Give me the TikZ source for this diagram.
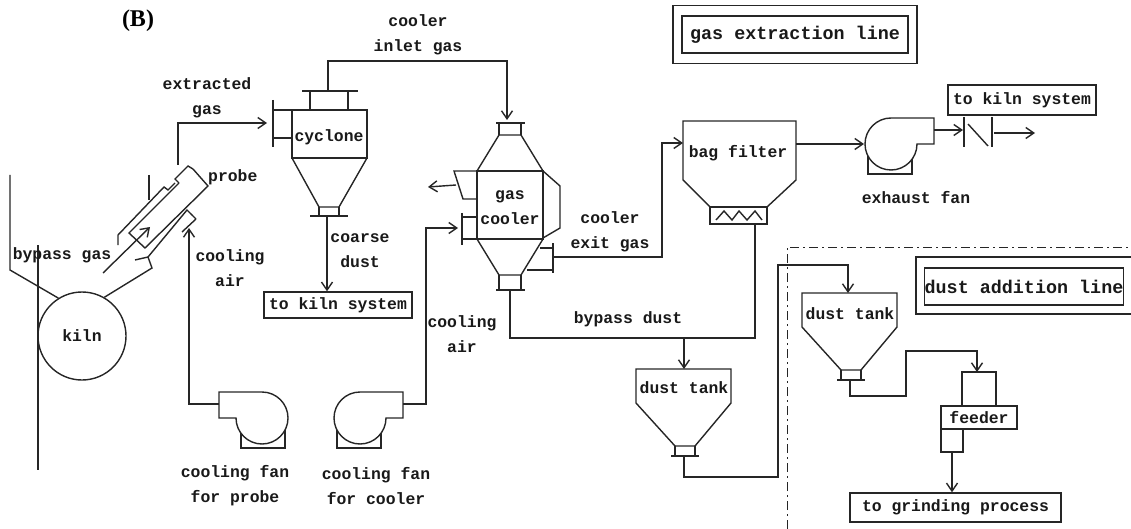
\documentclass[tikz,border=0pt]{standalone}
\usepackage{fontspec}
\setmainfont{Liberation Mono}
\newfontfamily\panelfont{Liberation Serif}
\usetikzlibrary{arrows.meta,positioning}
\tikzset{
	plant/.style={draw=black!85, line width=1.4pt},
	flowarr/.style={plant, -{Straight Barb[length=8pt,width=11pt,line width=1.4pt]}},
	tag/.style={inner sep=0pt, align=center, text=black!90, font=\bfseries\fontsize{16.4}{25}\selectfont},
	tagbox/.style={tag, plant},
	tagbig/.style={tagbox, font=\bfseries\fontsize{18.4}{25}\selectfont},
	blower/.pic={
		\draw[plant] (26,0) arc[start angle=0, end angle=270, radius=26] -- (43,-26) -- (43,0) -- cycle;
		\draw[plant] (-23,12) -- (-23,30) -- (21,30) -- (21,15);
		\coordinate (-out) at (43,-14);
	},
	dusttank/.pic={
		\draw[plant] (-48,34) -- (-48,0) -- (47,0) -- (47,34) -- (11,77) -- (-9,77) -- cycle;
		\draw[plant] (-9,77) -- (-9,87) (11,77) -- (11,87);
		\draw[plant] (-13,87) -- (15,87);
		\coordinate (-out) at (0,87);
	}
}

\begin{document}
\begin{tikzpicture}[x=1pt,y=-1pt]
	\useasboundingbox (0,0) rectangle (1131,529);
	\node[font=\panelfont\bfseries\fontsize{24}{24}\selectfont, inner sep=0pt] (panel) at (138,21) {(B)};

	% kiln and probe
	\node[tag, plant, circle, minimum size=88pt] (kiln) at (82,336) {kiln};
	\draw[plant] (10,175) -- (10,270) -- (kiln.122);
	\draw[plant] (38,245) -- (38,470);
	\draw[plant] (kiln.60) -- (152,268) -- (148,257) -- (135,260);
	\draw[plant] (148,257) -- (187,210) -- (192,215);
	\draw[plant] (196,219) -- (182,232);
	\draw[plant] (191,214) -- (196,219);
	\draw[plant] (193,169) -- (208,186) -- (145,248) -- (129,233) -- (179,183);
	\draw[plant] (179,183) -- (175,179) -- (188,166) -- (193,169);
	\draw[plant] (118,245) -- (118,235) -- (164,187) -- (168,190) -- (175,183);
	\draw[plant] (149,175) -- (149,200);
	\coordinate (probetail) at (103,273);
	\coordinate (probehead) at (150,227);
	\coordinate (probecap) at (207,177);
	\draw[flowarr] (probetail) -- (probehead);
	\node[tag, right=1pt of probecap] (probe) {probe};
	\node[tag] (bypass) at (62,255) {bypass gas};
	\coordinate (probeout) at (178,165);

	% cyclone
	\draw[plant] (292,110) rectangle (367,158);
	\draw[plant] (292,158) -- (319,207) -- (339,207) -- (367,158);
	\draw[plant] (319,207) -- (319,216) (339,207) -- (339,216);
	\draw[plant] (310,216) -- (348,216);
	\draw[plant] (310,91) -- (310,110) (348,91) -- (348,110);
	\draw[plant] (302,91) -- (358,91);
	\draw[plant] (273,100) -- (273,147);
	\draw[plant] (273,110) -- (292,110) (273,138) -- (292,138);
	\coordinate (cycin) at (267,123);
	\coordinate (cyctop) at (328,91);
	\coordinate (cycout) at (327,216);
	\node[tag] (cyclone) at (329,137) {cyclone};
	\node[tagbox, minimum width=148pt, minimum height=26pt] (tokilna) at (338,305) {to kiln system};
	\node[tag] (coarse) at (360,251) {coarse\\dust};
	\node[tag] (extracted) at (207,98) {extracted\\gas};
	\coordinate (extbend) at (178,123);
	\draw[flowarr] (probeout) -- (extbend) -- (cycin);
	\draw[flowarr] (cycout) -- (cycout |- tokilna.north);

	% gas cooler
	\draw[plant] (477,171) rectangle (543,239);
	\draw[plant] (477,171) -- (499,135) -- (521,135) -- (543,171);
	\draw[plant] (499,135) -- (499,123) (521,135) -- (521,123);
	\draw[plant] (496,123) -- (525,123);
	\draw[plant] (477,239) -- (499,275) -- (521,275) -- (543,239);
	\draw[plant] (499,275) -- (499,290) (521,275) -- (521,290);
	\draw[plant] (496,290) -- (525,290);
	\draw[plant] (477,171) -- (454,171) -- (463,199) -- (477,199);
	\draw[plant] (543,171) -- (560,186) -- (560,228) -- (543,238);
	\draw[plant] (462,213) -- (462,245);
	\draw[plant] (462,217) -- (477,217) (462,239) -- (477,239);
	\draw[plant] (553,243) -- (553,273);
	\draw[plant] (540,248) -- (553,248) (527,270) -- (553,270);
	\coordinate (coolertop) at (507,120);
	\coordinate (coolerleft) at (456,185);
	\coordinate (coolerlefttip) at (428,187);
	\coordinate (coolerin) at (458,228);
	\coordinate (coolerout) at (553,257);
	\coordinate (coolerdust) at (510,290);
	\node[tag] (gascooler) at (510,208) {gas\\cooler};
	\node[tag] (exitgas) at (610,232) {cooler\\exit gas};
	\node[tag] (inletgas) at (418,35) {cooler\\inlet gas};
	\coordinate (inletbend) at (328,61);
	\draw[flowarr] (cyctop) -- (inletbend) -| (coolertop);
	\draw[flowarr] (coolerleft) -- (coolerlefttip);

	% bag filter
	\draw[plant] (683,180) -- (683,121) -- (796,121) -- (796,180) -- (767,207) -- (710,207) -- cycle;
	\draw[plant] (710,207) rectangle (767,224);
	\draw[plant] (716,220) -- (724,211) -- (732,220) -- (739,211) -- (747,220) -- (755,211) -- (762,220);
	\node[tag] (bagfilter) at (738,153) {bag filter};
	\coordinate (bagin) at (683,143);
	\coordinate (bagout) at (796,144);
	\coordinate (bagdust) at (755,224);
	\coordinate (exitbend) at (662,257);
	\draw[flowarr] (coolerout) -- (exitbend) |- (bagin);

	% exhaust fan and damper
	\pic (fanexh) at (891,144) {blower};
	\coordinate (fanexhin) at (864,144);
	\draw[flowarr] (bagout) -- (fanexhin);
	\node[tag] (exhaust) at (916,198) {exhaust fan};
	\draw[plant] (964,117) -- (964,147) (992,117) -- (992,147);
	\draw[plant] (968,124) -- (988,146);
	\coordinate (dampin) at (963,130);
	\coordinate (dampout) at (994,133);
	\coordinate (damptip) at (1035,133);
	\draw[flowarr] (fanexh-out) -- (dampin);
	\draw[flowarr] (dampout) -- (damptip);
	\node[tagbox, minimum width=148pt, minimum height=30pt] (tokilnb) at (1022,100) {to kiln system};

	% cooling fans
	\pic[xscale=-1] (fanprobe) at (262,418) {blower};
	\pic (fancool) at (360,418) {blower};
	\node[tag] (fanprobelab) at (235,486) {cooling fan\\for probe};
	\node[tag] (fancoollab) at (376,486) {cooling fan\\for cooler};
	\coordinate (probein) at (189,228);
	\coordinate (coolbend) at (426,228);
	\draw[flowarr] (fanprobe-out) -| (probein);
	\draw[flowarr] (fancool-out) -| (coolbend) -- (coolerin);
	\node[tag] (coolairp) at (230,268) {cooling\\air};
	\node[tag] (coolairc) at (462,334) {cooling\\air};

	% bypass dust and tanks
	\pic (tankone) at (684,369) {dusttank};
	\pic (tanktwo) at (850,293) {dusttank};
	\coordinate (tankonetop) at (684,369);
	\coordinate (tanktwotop) at (848,293);
	\coordinate (dustjoin) at (684,338);
	\coordinate (tankbend) at (778,477);
	\coordinate (tankbendb) at (778,265);
	\node[tag] (tankonelab) at (684,388) {dust tank};
	\node[tag] (tanktwolab) at (850,314) {dust tank};
	\node[tag] (bypassdust) at (628,319) {bypass dust};
	\draw[plant] (bagdust) |- (dustjoin) -| (coolerdust);
	\draw[flowarr] (dustjoin) -- (tankonetop);
	\draw[flowarr] (tankone-out) |- (tankbend) -- (tankbendb) -| (tanktwotop);

	% feeder
	\node[tagbox, minimum width=76pt, minimum height=23pt] (feeder) at (979,417.5) {feeder};
	\draw[plant] (962,406) -- (962,372) -- (996,372) -- (996,406);
	\draw[plant] (941,429) -- (941,452) -- (963,452) -- (963,429);
	\coordinate (feedtop) at (977,372);
	\coordinate (feedbot) at (952,452);
	\coordinate (feedbend) at (906,396);
	\coordinate (feedbendb) at (906,351);
	\node[tagbox, minimum width=211pt, minimum height=29pt] (togrind) at (955.5,507.5) {to grinding process};
	\draw[flowarr] (tanktwo-out) |- (feedbend) -- (feedbendb) -| (feedtop);
	\draw[flowarr] (feedbot) -- (feedbot |- togrind.north);

	% line titles
	\node[tagbig, minimum width=226pt, minimum height=37pt] (gasline) at (795,34.5) {gas extraction line};
	\node[plant, minimum width=244pt, minimum height=58pt] (gasframe) at (gasline) {};
	\node[tagbig, minimum width=198pt, minimum height=37pt] (dustline) at (1024,286.5) {dust addition line};
	\draw[plant] (1131,257) -- (916,257) -- (916,314) -- (1131,314);
	\draw[draw=black!85, line width=1pt, dash pattern=on 9pt off 4pt on 2pt off 4pt] (787,529) -- (787,247) -- (1131,247);
\end{tikzpicture}
\end{document}
